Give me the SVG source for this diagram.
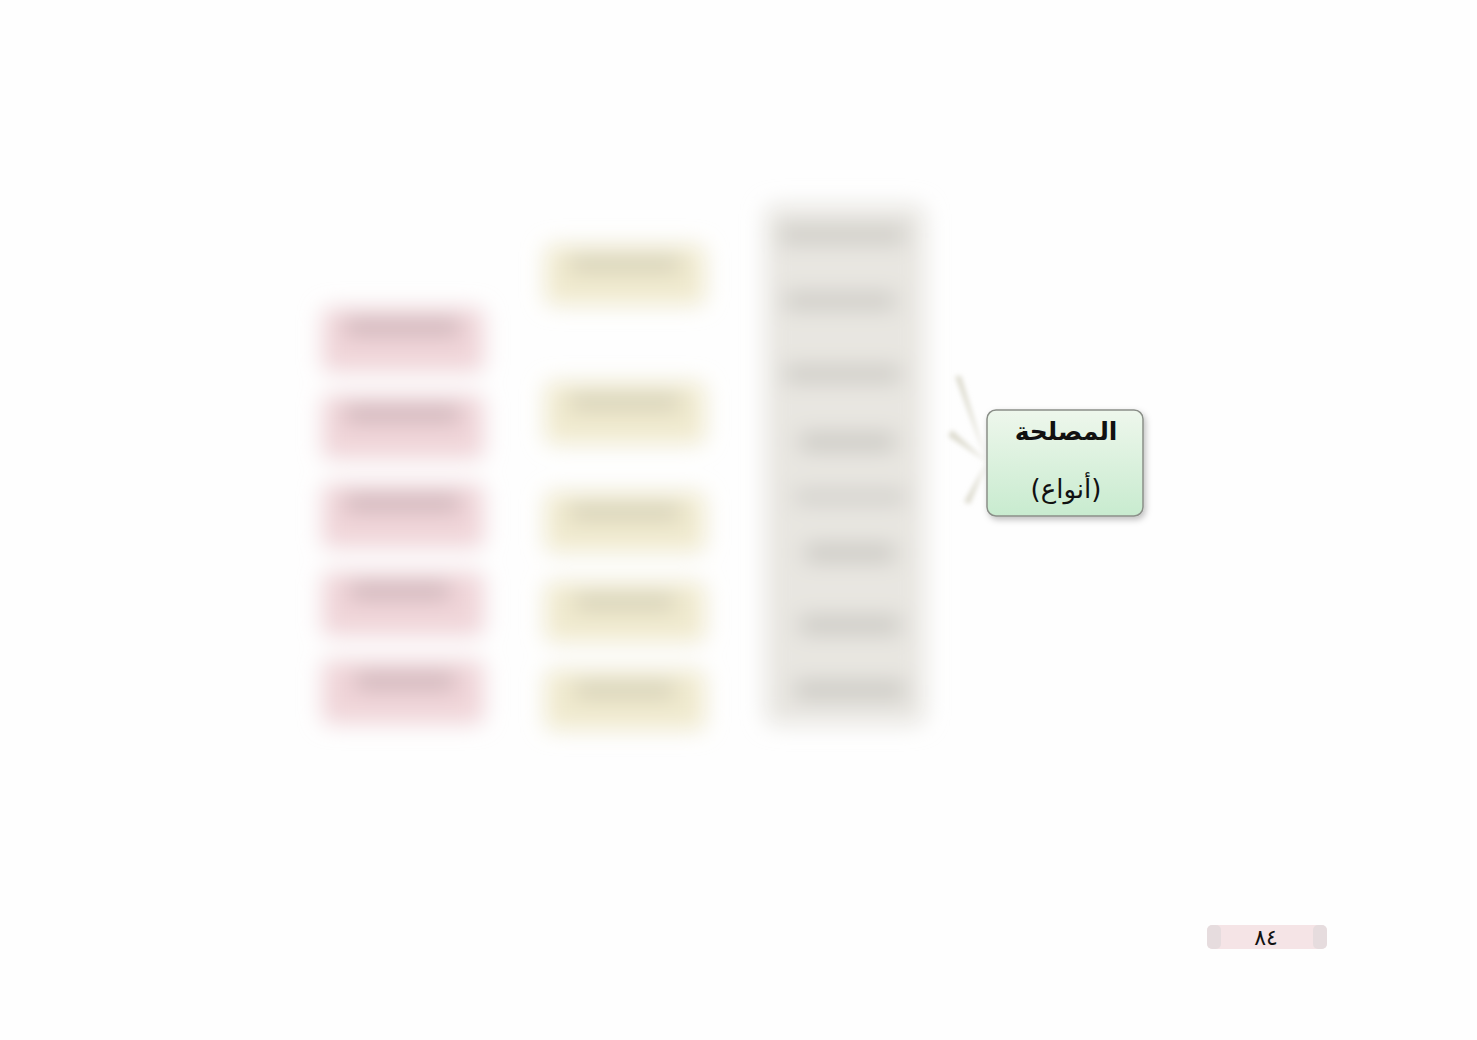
<svg xmlns="http://www.w3.org/2000/svg" width="1477" height="1040" viewBox="0 0 1477 1040">
<defs>
<filter id="blur" x="-30%" y="-30%" width="160%" height="160%"><feGaussianBlur stdDeviation="11"/></filter>
<filter id="soft" x="-20%" y="-20%" width="140%" height="140%"><feGaussianBlur stdDeviation="2.5"/></filter>
<filter id="shadow" x="-20%" y="-20%" width="140%" height="140%"><feDropShadow dx="2" dy="3" stdDeviation="3" flood-color="#000" flood-opacity="0.25"/></filter>
<linearGradient id="green" x1="0" y1="0" x2="0" y2="1">
<stop offset="0" stop-color="#eef7ec"/><stop offset="1" stop-color="#c8ebcf"/></linearGradient>
<style>
.pink{fill:#f0d5d9}
.pinkT{fill:#a89094}
.beige{fill:#f0eacf}
.beigeT{fill:#b5b09a}
.gray{fill:#e8e6e1}
.grayT{fill:#a9a7a2}
.ar{font-family:"DejaVu Sans","Noto Sans",sans-serif;fill:#111;text-anchor:middle}
</style>
</defs>
<rect width="1477" height="1040" fill="#fefefe"/>

<g id="connectors">
<path d="M987,462 L955,376 L961,376 Z" fill="#dcdacd" filter="url(#soft)"/>
<path d="M987,462 L948,436 L952,430 Z" fill="#dcdacd" filter="url(#soft)"/>
<path d="M987,462 L964,502 L970,504 Z" fill="#dcdacd" filter="url(#soft)"/>
</g>

<g id="column-pink" filter="url(#blur)">
<rect class="pink" x="322" y="308" width="162" height="64" rx="8"/>
<rect class="pinkT" x="345" y="320" width="115" height="14" opacity="0.6"/>
<rect class="pink" x="322" y="395" width="162" height="64" rx="8"/>
<rect class="pinkT" x="345" y="407" width="115" height="14" opacity="0.6"/>
<rect class="pink" x="322" y="484" width="162" height="64" rx="8"/>
<rect class="pinkT" x="345" y="496" width="115" height="14" opacity="0.6"/>
<rect class="pink" x="322" y="572" width="162" height="64" rx="8"/>
<rect class="pinkT" x="350" y="584" width="100" height="14" opacity="0.6"/>
<rect class="pink" x="322" y="660" width="162" height="64" rx="8"/>
<rect class="pinkT" x="355" y="674" width="100" height="14" opacity="0.6"/>
</g>

<g id="column-beige" filter="url(#blur)">
<rect class="beige" x="545" y="245" width="160" height="60" rx="8"/>
<rect class="beigeT" x="570" y="257" width="110" height="14" opacity="0.55"/>
<rect class="beige" x="545" y="382" width="160" height="62" rx="8"/>
<rect class="beigeT" x="570" y="395" width="110" height="14" opacity="0.55"/>
<rect class="beige" x="545" y="492" width="160" height="60" rx="8"/>
<rect class="beigeT" x="570" y="505" width="110" height="14" opacity="0.55"/>
<rect class="beige" x="545" y="582" width="160" height="60" rx="8"/>
<rect class="beigeT" x="575" y="595" width="100" height="14" opacity="0.55"/>
<rect class="beige" x="545" y="670" width="160" height="60" rx="8"/>
<rect class="beigeT" x="575" y="683" width="100" height="14" opacity="0.55"/>
</g>

<g id="column-gray" filter="url(#blur)">
<rect class="gray" x="765" y="205" width="160" height="520" rx="10"/>
<rect class="grayT" x="780" y="228" width="125" height="14" opacity="0.55"/>
<rect class="grayT" x="785" y="294" width="110" height="14" opacity="0.55"/>
<rect class="grayT" x="785" y="367" width="115" height="14" opacity="0.55"/>
<rect class="grayT" x="800" y="434" width="95" height="16" opacity="0.55"/>
<rect class="grayT" x="795" y="490" width="110" height="14" opacity="0.4"/>
<rect class="grayT" x="805" y="545" width="90" height="16" opacity="0.55"/>
<rect class="grayT" x="800" y="617" width="100" height="16" opacity="0.55"/>
<rect class="grayT" x="795" y="682" width="110" height="16" opacity="0.55"/>
</g>

<g id="node-main">
<rect x="987" y="410" width="156" height="106" rx="9" fill="url(#green)" stroke="#8a8f88" stroke-width="1.5" filter="url(#shadow)"/>
<text class="ar" x="1066" y="440" font-size="25" font-weight="bold">المصلحة</text>
<text class="ar" x="1066" y="498" font-size="26">(أنواع)</text>
</g>

<g id="page-number">
<rect x="1207" y="925" width="120" height="24" rx="6" fill="#f5e4e6"/>
<rect x="1207" y="925" width="14" height="24" rx="5" fill="#e6dcde"/>
<rect x="1313" y="925" width="14" height="24" rx="5" fill="#e6dcde"/>
<text class="ar" x="1266" y="945" font-size="22">٨٤</text>
</g>
</svg>
